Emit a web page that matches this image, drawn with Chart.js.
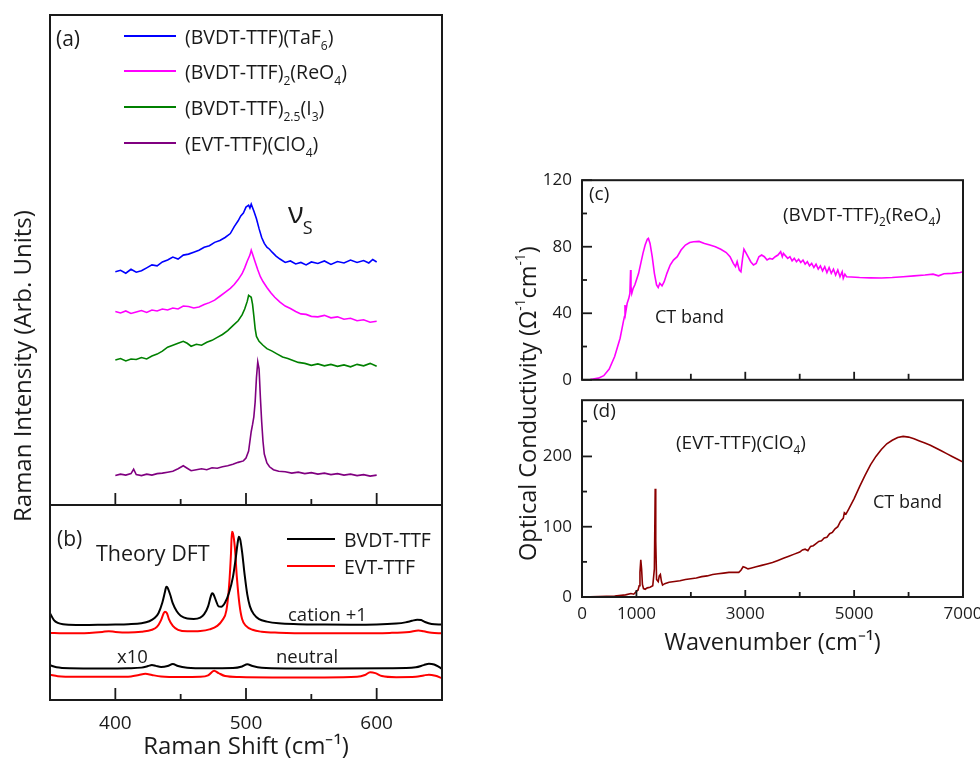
<!DOCTYPE html>
<html><head><meta charset="utf-8">
<script src="https://cdn.jsdelivr.net/npm/chart.js@4.4.0/dist/chart.umd.min.js"></script>
<style>
html,body{margin:0;padding:0;background:#fff;overflow:hidden;}
#wrap{position:relative;width:980px;height:762px;font-family:'Open Sans',sans-serif;color:#1a1a1a;overflow:hidden;}
canvas{position:absolute;}
.t{position:absolute;white-space:nowrap;line-height:1;transform:translateY(-50%);}
.t sub{font-size:0.62em;vertical-align:-0.45em;line-height:0;}
.rot{position:absolute;white-space:nowrap;line-height:1;transform-origin:0 0;transform:rotate(-90deg);}
.rot sup{font-size:0.58em;vertical-align:0.8em;line-height:0;}
.lg{position:absolute;height:2px;}
</style></head><body><div id="wrap">
<canvas id="ca" style="left:0;top:0;width:460px;height:520px" width="460" height="520"></canvas>
<canvas id="cb" style="left:0;top:495px;width:460px;height:267px" width="460" height="267"></canvas>
<canvas id="cc" style="left:500px;top:160px;width:480px;height:240px" width="480" height="240"></canvas>
<canvas id="cd" style="left:500px;top:380px;width:500px;height:282px" width="500" height="282"></canvas>

<div class="t" style="left:56px;top:38px;font-size:21px">(a)</div>
<div class="lg" style="left:124px;top:35px;width:52px;background:#0000ff"></div>
<div class="t" style="left:185px;top:37px;font-size:19.5px">(BVDT-TTF)(TaF<sub>6</sub>)</div>
<div class="lg" style="left:124px;top:70px;width:52px;background:#ff00ff"></div>
<div class="t" style="left:185px;top:72px;font-size:19.5px">(BVDT-TTF)<sub>2</sub>(ReO<sub>4</sub>)</div>
<div class="lg" style="left:124px;top:106px;width:52px;background:#008000"></div>
<div class="t" style="left:185px;top:108px;font-size:19.5px">(BVDT-TTF)<sub>2.5</sub>(I<sub>3</sub>)</div>
<div class="lg" style="left:124px;top:142px;width:52px;background:#800080"></div>
<div class="t" style="left:185px;top:144px;font-size:19.5px">(EVT-TTF)(ClO<sub>4</sub>)</div>
<div class="t" style="left:288px;top:211px;font-size:29px">ν<span style="font-size:18px;position:relative;top:11px;left:-1px">S</span></div>

<div class="t" style="left:57px;top:538px;font-size:21px">(b)</div>
<div class="t" style="left:96px;top:553px;font-size:21.5px">Theory DFT</div>
<div class="lg" style="left:287px;top:538px;width:48px;background:#000"></div>
<div class="t" style="left:344px;top:540px;font-size:19.5px">BVDT-TTF</div>
<div class="lg" style="left:287px;top:565px;width:48px;background:#ff0000"></div>
<div class="t" style="left:344px;top:567px;font-size:19.5px">EVT-TTF</div>
<div class="t" style="left:288px;top:614px;font-size:18.5px">cation +1</div>
<div class="t" style="left:117px;top:656px;font-size:18.5px">x10</div>
<div class="t" style="left:276px;top:656px;font-size:18.5px">neutral</div>

<div class="t" style="left:589px;top:193px;font-size:19px">(c)</div>
<div class="t" style="left:783px;top:214px;font-size:19px">(BVDT-TTF)<sub>2</sub>(ReO<sub>4</sub>)</div>
<div class="t" style="left:655px;top:316px;font-size:18px">CT band</div>
<div class="t" style="left:593px;top:410px;font-size:19px">(d)</div>
<div class="t" style="left:676px;top:442px;font-size:19px">(EVT-TTF)(ClO<sub>4</sub>)</div>
<div class="t" style="left:873px;top:501px;font-size:18px">CT band</div>

<div class="rot" style="left:10px;top:522px;font-size:24px">Raman Intensity (Arb. Units)</div>
<div class="rot" style="left:516px;top:561px;font-size:23.5px">Optical Conductivity (Ω<sup>-1</sup>cm<sup>-1</sup>)</div>
</div>
<script>
// ---------- DATA ----------
const ramanTicksMajor = [400, 500, 600];
const ramanTicksMinor = [450, 550];
const wnTicksLabels = [0, 1000, 3000, 5000, 7000];
const wnTicksMajor = [1000, 3000, 5000];
const wnTicksMinor = [2000, 4000, 6000];
const sigmaCTicks = [0, 40, 80, 120];
const sigmaCMinor = [20, 60, 100];
const sigmaDTicks = [0, 100, 200];
const sigmaDMinor = [50, 150, 250];

// (a) Raman spectra (offset, arb. units)
const ramanTaF6 = [[400,47.6],[404,47.9],[408,47.3],[412,48.1],[416,47.5],[420,47.8],[424,48.4],[428,49.0],[432,48.8],[436,49.6],[440,50.0],[444,50.6],[448,50.2],[452,51.0],[456,51.2],[460,51.6],[464,52.0],[468,52.6],[472,52.9],[476,53.6],[480,54.0],[484,54.6],[488,55.4],[491,56.8],[494,58.0],[496,59.0],[498,59.6],[500,60.8],[502,61.2],[503,60.6],[504,61.4],[506,60.0],[508,58.4],[510,56.4],[512,54.6],[514,53.4],[516,52.6],[518,52.2],[520,51.6],[523,50.8],[526,50.2],[530,49.5],[534,49.8],[538,49.2],[542,49.5],[546,49.0],[550,49.6],[555,49.3],[560,49.8],[565,49.1],[570,49.7],[575,49.4],[580,50.0],[585,49.5],[590,49.9],[594,49.4],[597,50.1],[600,49.6]];
const ramanReO4 = [[400,39.5],[404,39.2],[408,39.6],[412,39.1],[416,39.4],[420,39.7],[424,39.3],[428,39.8],[432,39.6],[436,40.0],[440,39.8],[444,40.2],[448,40.0],[452,40.6],[456,40.5],[460,40.2],[464,40.4],[468,40.9],[472,41.3],[476,41.8],[480,42.6],[484,43.4],[488,44.2],[491,45.0],[494,46.0],[497,47.2],[499,48.4],[501,49.8],[503,51.0],[504,52.0],[505,51.2],[507,49.6],[509,48.0],[511,46.6],[513,45.6],[516,44.4],[519,43.3],[522,42.4],[526,41.4],[530,40.6],[534,40.1],[538,39.5],[542,39.0],[546,38.9],[550,38.5],[555,38.4],[560,38.7],[565,38.2],[570,38.4],[575,37.9],[580,38.1],[585,37.6],[590,37.8],[595,37.3],[600,37.5]];
const ramanI3 = [[400,29.6],[404,29.9],[408,29.4],[412,29.8],[416,29.7],[420,30.1],[424,29.8],[428,30.4],[432,30.8],[436,31.4],[440,32.2],[444,32.6],[448,33.0],[452,33.4],[455,33.0],[458,32.4],[462,32.8],[466,32.6],[470,33.2],[474,33.6],[478,34.2],[482,34.8],[486,35.6],[490,36.6],[494,37.6],[497,38.8],[499,40.0],[501,41.6],[502,42.8],[504,42.4],[505,41.0],[506,38.6],[507,36.0],[508,34.4],[510,33.4],[513,32.6],[516,31.9],[520,31.4],[524,30.8],[528,30.2],[532,29.9],[536,29.5],[540,29.1],[545,28.9],[550,28.5],[555,28.8],[560,28.4],[565,28.7],[570,28.3],[575,28.6],[580,28.2],[585,28.7],[590,28.4],[595,28.9],[600,28.3]];
const ramanClO4 = [[400,6.0],[404,6.3],[408,6.1],[412,6.4],[414,7.3],[416,6.2],[420,6.0],[424,6.3],[428,6.1],[432,6.4],[436,6.5],[440,6.7],[444,6.9],[448,7.4],[452,8.0],[455,7.5],[458,7.0],[462,7.2],[466,7.4],[470,7.2],[474,7.6],[478,7.5],[482,7.8],[486,8.0],[490,8.3],[494,8.7],[498,9.0],[500,9.6],[502,11.0],[504,15.0],[505,16.4],[506,18.0],[507,21.0],[508,26.0],[509,29.2],[510,27.8],[511,22.0],[512,17.0],[513,13.0],[514,10.4],[516,8.6],[518,7.8],[521,7.2],[525,6.9],[530,6.8],[535,6.5],[540,6.7],[545,6.4],[550,6.6],[555,6.3],[560,6.5],[565,6.2],[570,6.4],[575,6.1],[580,6.3],[585,6.0],[590,6.2],[595,5.9],[600,6.1]];

// (b) DFT theory
const dftBvdtCation = [[350,44.5],[353,41.0],[356,39.5],[360,38.8],[370,38.5],[380,38.5],[390,38.6],[400,38.7],[410,38.9],[420,39.4],[426,40.4],[430,42.0],[433,44.5],[436,50.0],[438,55.5],[439,58.1],[440,57.6],[442,54.0],[444,49.5],[447,45.5],[450,43.2],[455,41.8],[460,41.6],[465,42.3],[468,44.0],[471,48.0],[473,53.0],[474,54.7],[475,54.3],[477,51.0],[479,48.0],[481,47.8],[484,50.0],[487,55.0],[490,63.0],[492,72.0],[493.5,80.0],[494.5,83.7],[495.5,82.5],[497,76.0],[499,64.0],[501,54.0],[503,48.0],[506,44.0],[510,41.5],[516,40.2],[525,39.3],[540,38.9],[560,38.7],[580,38.6],[600,38.7],[615,39.2],[622,39.8],[627,40.6],[631,41.2],[634,41.0],[637,40.0],[642,39.0],[650,38.7]];
const dftEvtCation = [[350,34.4],[360,34.2],[380,34.4],[390,34.9],[395,35.3],[400,34.9],[410,34.6],[420,35.0],[428,36.0],[432,37.6],[435,41.0],[437,44.5],[438,45.3],[439.5,44.5],[441,41.5],[444,38.0],[448,36.0],[455,35.2],[465,35.4],[472,36.2],[478,38.0],[482,41.0],[485,46.0],[487,58.0],[488.5,75.0],[489.2,86.3],[490,85.5],[491.5,78.0],[493,63.0],[495,49.0],[497,41.5],[500,38.0],[505,36.0],[512,35.0],[525,34.5],[550,34.2],[580,34.2],[610,34.4],[625,34.9],[632,35.6],[636,35.2],[642,34.5],[650,34.2]];
const dftBvdtNeutral = [[350,17.8],[355,16.8],[365,16.3],[390,16.2],[410,16.3],[420,16.6],[425,17.4],[428,18.0],[431,17.5],[435,16.9],[440,17.4],[444,18.5],[448,17.4],[455,16.6],[470,16.3],[490,16.4],[497,17.2],[501,18.3],[505,17.4],[512,16.5],[530,16.2],[570,16.2],[610,16.3],[630,16.8],[636,17.9],[640,18.6],[644,18.2],[648,16.8],[650,16.0]];
const dftEvtNeutral = [[350,12.9],[356,12.2],[370,11.9],[400,11.9],[412,12.1],[418,12.8],[423,13.4],[428,12.8],[435,12.1],[450,11.8],[465,11.9],[471,12.6],[475.6,15.0],[479,13.8],[484,12.3],[495,11.8],[520,11.6],[560,11.6],[585,11.9],[591,12.8],[595,14.2],[599,13.8],[604,12.3],[615,11.7],[630,11.9],[636,12.6],[640,13.0],[645,12.4],[650,11.2]];

// (c) optical conductivity (BVDT-TTF)2(ReO4)
const sigmaReO4 = [[0,0],[150,0.2],[300,1.0],[400,2.5],[500,6.5],[600,14],[700,25],[760,35],[780,38],[790,45],[800,40],[830,46],[860,49],[880,52],[893,66],[900,56],[915,52],[940,55],[970,57],[1000,60],[1040,64],[1080,70],[1120,76],[1160,81],[1200,84.5],[1220,85],[1250,82],[1290,74],[1330,64],[1370,57],[1400,55.5],[1430,58],[1470,56.5],[1510,59],[1560,64],[1620,69],[1680,72],[1750,74],[1820,78],[1900,81],[1980,82.5],[2050,83],[2150,83.2],[2250,82],[2350,81],[2450,80],[2550,78.5],[2650,76.5],[2720,74],[2780,70],[2820,68],[2850,71],[2890,66],[2920,65],[2950,73],[2975,78.5],[3000,77],[3050,74],[3100,71],[3150,69],[3200,70],[3250,74],[3300,75],[3350,74],[3400,72],[3450,73],[3500,72.5],[3550,74],[3600,75],[3650,77],[3680,74],[3700,76],[3740,74.5],[3780,73],[3820,74],[3860,71.5],[3900,73],[3940,71],[3980,72.5],[4020,70.5],[4060,72],[4100,69.5],[4140,71],[4180,68.5],[4220,70],[4260,67.5],[4300,69.5],[4340,66.5],[4380,68.5],[4420,65.5],[4460,68],[4500,64.5],[4540,67.5],[4580,64],[4620,66.5],[4660,63],[4700,66],[4740,62],[4780,65],[4800,61],[4830,63.5],[4860,62],[4950,61.8],[5100,61.5],[5300,61.3],[5500,61.2],[5700,61.5],[5900,62],[6100,62.5],[6300,63],[6450,63.5],[6550,62.5],[6650,63.8],[6800,64],[6950,64.5],[7000,65]];

// (d) optical conductivity (EVT-TTF)(ClO4)
const sigmaClO4 = [[0,0],[300,0.5],[600,1.5],[800,3],[900,5],[950,4],[1000,8],[1030,10],[1050,16],[1065,35],[1080,53],[1095,40],[1110,18],[1130,12],[1160,11],[1200,13],[1250,14],[1300,16],[1330,40],[1345,154],[1355,80],[1370,25],[1400,22],[1420,30],[1440,32],[1460,22],[1480,17],[1520,19],[1600,21],[1700,22],[1800,23],[1900,25],[2000,26],[2100,27],[2200,29],[2300,30],[2400,32],[2500,33],[2600,34],[2700,35],[2800,35],[2880,35],[2920,38],[2960,43],[3000,42],[3050,40],[3100,41],[3200,43],[3300,45],[3400,47],[3500,49],[3600,52],[3700,55],[3800,58],[3900,61],[4000,64],[4050,67],[4100,68],[4150,66],[4200,72],[4250,73],[4300,76],[4350,79],[4400,80],[4450,84],[4500,85],[4550,90],[4600,92],[4650,97],[4700,100],[4750,108],[4800,112],[4820,120],[4850,118],[4900,125],[5000,140],[5100,157],[5200,173],[5300,188],[5400,200],[5500,210],[5600,218],[5700,223],[5800,227],[5900,228.5],[6000,227.5],[6100,225],[6200,222],[6300,219],[6400,216],[6500,212],[6600,208],[6700,204],[6800,200],[6900,196],[7000,192]];

// ---------- helpers ----------
const FONT = "'Open Sans', sans-serif";
const TXT = '#1a1a1a';
const pts = a => a.map(p => ({x: p[0], y: p[1]}));
const plain = v => String(v);
function ds(arr, color, width, smooth) {
  return {data: pts(arr), borderColor: color, borderWidth: width, pointRadius: 0,
          fill: false, tension: smooth ? 0.4 : 0, cubicInterpolationMode: smooth ? 'monotone' : 'default'};
}
const frameTicks = {
  id: 'frameTicks',
  afterDatasetsDraw(chart, args, o) {
    const {ctx, chartArea: {left, top, right, bottom}, scales: {x, y}} = chart;
    ctx.save();
    ctx.strokeStyle = TXT;
    ctx.lineWidth = 1.8;
    const seg = (x1, y1, x2, y2) => { ctx.beginPath(); ctx.moveTo(x1, y1); ctx.lineTo(x2, y2); ctx.stroke(); };
    (o.xMajor || []).forEach(v => { const p = x.getPixelForValue(v); seg(p, bottom, p, bottom - o.xMajLen); });
    (o.xMinor || []).forEach(v => { const p = x.getPixelForValue(v); seg(p, bottom, p, bottom - o.xMinLen); });
    (o.yMajor || []).forEach(v => { const p = y.getPixelForValue(v); seg(left, p, left + o.yMajLen, p); });
    (o.yMinor || []).forEach(v => { const p = y.getPixelForValue(v); seg(left, p, left + o.yMinLen, p); });
    ctx.lineWidth = 2;
    ctx.strokeRect(left, top, right - left, bottom - top);
    ctx.restore();
  }
};
const base = {responsive: false, animation: false, devicePixelRatio: 1,
  plugins: {legend: {display: false}, tooltip: {enabled: false}}};

// ---------- (a) ----------
new Chart(document.getElementById('ca'), {
  type: 'line',
  data: {datasets: [ds(ramanTaF6, '#0000ff', 1.6), ds(ramanReO4, '#ff00ff', 1.6),
                    ds(ramanI3, '#008000', 1.6), ds(ramanClO4, '#800080', 1.6)]},
  options: {...base, layout: {padding: {left: 50, top: 15, right: 18, bottom: 15}},
    scales: {x: {type: 'linear', min: 350, max: 650, display: false},
             y: {min: 0, max: 100, display: false}},
    plugins: {...base.plugins, frameTicks: {xMajor: ramanTicksMajor, xMinor: ramanTicksMinor, xMajLen: 12, xMinLen: 6}}},
  plugins: [frameTicks]
});

// ---------- (b) ----------
new Chart(document.getElementById('cb'), {
  type: 'line',
  data: {datasets: [ds(dftBvdtCation, '#000000', 2, true), ds(dftEvtCation, '#ff0000', 2, true),
                    ds(dftBvdtNeutral, '#000000', 2, true), ds(dftEvtNeutral, '#ff0000', 2, true)]},
  options: {...base, layout: {padding: {left: 50, top: 10, right: 18, bottom: 0}},
    scales: {
      x: {type: 'linear', min: 350, max: 650,
          grid: {display: false, drawTicks: false}, border: {display: false},
          afterBuildTicks: s => { s.ticks = ramanTicksMajor.map(v => ({value: v})); },
          afterFit: s => { s.height = 62; },
          ticks: {font: {family: FONT, size: 19}, color: TXT, padding: 12, maxRotation: 0, callback: plain},
          title: {display: true, text: 'Raman Shift (cm⁻¹)', font: {family: FONT, size: 24}, color: TXT, padding: {top: 0, bottom: 0}}},
      y: {min: 0, max: 100, display: false}},
    plugins: {...base.plugins, frameTicks: {xMajor: ramanTicksMajor, xMinor: ramanTicksMinor, xMajLen: 12, xMinLen: 6}}},
  plugins: [frameTicks]
});

// ---------- (c) ----------
new Chart(document.getElementById('cc'), {
  type: 'line',
  data: {datasets: [ds(sigmaReO4, '#ff00ff', 1.6)]},
  options: {...base, layout: {padding: {left: 0, top: 14, right: 17, bottom: 14}},
    scales: {
      x: {type: 'linear', min: 0, max: 7000, display: false},
      y: {min: 0, max: 120, grid: {display: false, drawTicks: false}, border: {display: false},
          afterBuildTicks: s => { s.ticks = sigmaCTicks.map(v => ({value: v})); },
          afterFit: s => { s.width = 82; },
          ticks: {font: {family: FONT, size: 17}, color: TXT, padding: 10, callback: plain}}},
    plugins: {...base.plugins, frameTicks: {xMajor: wnTicksMajor, xMinor: wnTicksMinor, xMajLen: 8, xMinLen: 6,
      yMajor: sigmaCTicks, yMinor: sigmaCMinor, yMajLen: 10, yMinLen: 5}}},
  plugins: [frameTicks]
});

// ---------- (d) ----------
new Chart(document.getElementById('cd'), {
  type: 'line',
  data: {datasets: [ds(sigmaClO4, '#8b0000', 1.6)]},
  options: {...base, layout: {padding: {left: 0, top: 7, right: 37, bottom: 0}},
    scales: {
      x: {type: 'linear', min: 0, max: 7000,
          grid: {display: false, drawTicks: false}, border: {display: false},
          afterBuildTicks: s => { s.ticks = wnTicksLabels.map(v => ({value: v})); },
          afterFit: s => { s.height = 65; },
          ticks: {font: {family: FONT, size: 17}, color: TXT, padding: 7, maxRotation: 0, autoSkip: false, callback: plain},
          title: {display: true, text: 'Wavenumber (cm⁻¹)', font: {family: FONT, size: 23.5}, color: TXT, padding: {top: 0, bottom: 5}}},
      y: {min: 0, max: 280, grid: {display: false, drawTicks: false}, border: {display: false},
          afterBuildTicks: s => { s.ticks = sigmaDTicks.map(v => ({value: v})); },
          afterFit: s => { s.width = 82; },
          ticks: {font: {family: FONT, size: 17}, color: TXT, padding: 10, callback: plain}}},
    plugins: {...base.plugins, frameTicks: {xMajor: wnTicksMajor, xMinor: wnTicksMinor, xMajLen: 7, xMinLen: 5,
      yMajor: sigmaDTicks, yMinor: sigmaDMinor, yMajLen: 10, yMinLen: 5}}},
  plugins: [frameTicks]
});
</script>
</body></html>
